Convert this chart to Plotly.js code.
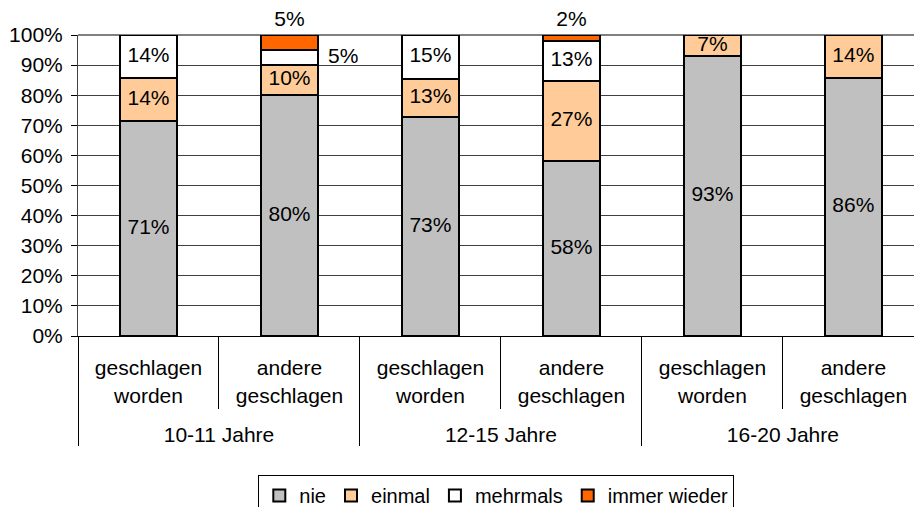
<!DOCTYPE html>
<html>
<head>
<meta charset="utf-8">
<script src="https://cdn.plot.ly/plotly-3.0.1.min.js"></script>
<style>html,body{margin:0;padding:0;background:#fff;}#chart{width:914px;height:507px;}</style>
</head>
<body>
<div id="chart"></div>
<script>
const groups = ['10-11 Jahre','10-11 Jahre','12-15 Jahre','12-15 Jahre','16-20 Jahre','16-20 Jahre'];
const categories = ['geschlagen<br>worden','andere<br>geschlagen','geschlagen<br>worden','andere<br>geschlagen','geschlagen<br>worden','andere<br>geschlagen'];
const seriesNames = ['nie','einmal','mehrmals','immer wieder'];
const nie = [71.4, 80.0, 72.7, 58.1, 92.9, 85.7];
const einmal = [14.3, 10.0, 12.7, 26.6, 7.1, 14.3];
const mehrmals = [14.3, 5.0, 14.6, 13.3, 0, 0];
const immerWieder = [0, 5.0, 0, 2.0, 0, 0];
const colors = ['#C0C0C0','#FFCC99','#FFFFFF','#FF6600'];
const yTickVals = [0,10,20,30,40,50,60,70,80,90,100];

const seriesValues = [nie, einmal, mehrmals, immerWieder];
const FONT = 'Liberation Sans, Arial, sans-serif';
const FS = 21;
// group labels sit one (empty) line lower, below the category labels
const groupLabels = groups.map(g => '<br>' + g);
const xcat = [groupLabels, categories];

const traces = seriesValues.map((vals, i) => ({
  type: 'bar', name: seriesNames[i], x: xcat, y: vals,
  marker: {color: colors[i], line: {color: '#000', width: 2}},
  textposition: 'none', hoverinfo: 'y+name'
}));

// label positions computed from the data
const lblInside = {gx: [], cx: [], y: [], t: []};
const lblRight = {gx: [], cx: [], y: [], t: []};
const lblTop = {gx: [], cx: [], y: [], t: []};
for (let j = 0; j < groups.length; j++) {
  let base = 0;
  const total = seriesValues.reduce((s, v) => s + v[j], 0);
  for (let i = 0; i < seriesValues.length; i++) {
    const v = seriesValues[i][j];
    if (v > 0) {
      const txt = Math.round(v) + '%';
      const isTop = Math.abs(base + v - total) < 1e-6;
      let tgt;
      if (v >= 6) { tgt = lblInside; tgt.y.push(base + v / 2); }
      else if (isTop) { tgt = lblTop; tgt.y.push(base + v); }
      else { tgt = lblRight; tgt.y.push(base + v / 2); }
      tgt.gx.push(groupLabels[j]); tgt.cx.push(categories[j]); tgt.t.push(txt);
    }
    base += v;
  }
}
const tf = {family: FONT, size: FS, color: '#000'};
traces.push({type: 'scatter', mode: 'text', x: [lblInside.gx, lblInside.cx], y: lblInside.y, text: lblInside.t,
  textposition: 'middle center', textfont: tf, showlegend: false, hoverinfo: 'skip', cliponaxis: false});
traces.push({type: 'scatter', mode: 'markers+text', x: [lblTop.gx, lblTop.cx], y: lblTop.y, text: lblTop.t,
  marker: {size: 4, opacity: 0}, textposition: 'top center', textfont: tf, showlegend: false,
  hoverinfo: 'skip', cliponaxis: false});
traces.push({type: 'scatter', mode: 'markers+text', x: [lblRight.gx, lblRight.cx], y: lblRight.y, text: lblRight.t,
  marker: {size: 60, opacity: 0}, textposition: 'middle right', textfont: tf, showlegend: false,
  hoverinfo: 'skip', cliponaxis: false});

const layout = {
  width: 914, height: 507,
  margin: {l: 78, r: 0, t: 35, b: 171},
  paper_bgcolor: '#fff', plot_bgcolor: '#fff',
  barmode: 'stack', bargap: 0.6,
  font: {family: FONT, size: FS, color: '#000'},
  showlegend: true,
  legend: {orientation: 'h', xref: 'container', yref: 'container', x: 0.543, xanchor: 'center',
    y: 0.063, yanchor: 'top', bordercolor: '#000', borderwidth: 1, bgcolor: '#fff',
    font: {family: FONT, size: 20, color: '#000'}, traceorder: 'normal', itemwidth: 30},
  xaxis: {type: 'multicategory', range: [-0.5, 5.43], tickson: 'boundaries', ticks: 'outside',
    ticklen: 72, tickcolor: '#000', tickwidth: 1, ticklabelstandoff: 13,
    showdividers: true, dividercolor: '#000', dividerwidth: 1,
    showline: true, linecolor: '#000', linewidth: 1, showgrid: false, zeroline: false,
    tickfont: {family: FONT, size: FS, color: '#000'}},
  yaxis: {range: [0, 100], tickvals: yTickVals, ticktext: yTickVals.map(v => v + '%'),
    ticks: 'outside', ticklen: 6, tickcolor: '#000', ticklabelstandoff: 4,
    showline: true, linecolor: '#404040', linewidth: 1,
    showgrid: true, gridcolor: '#404040', gridwidth: 1, zeroline: false, fixedrange: true,
    tickfont: {family: FONT, size: FS, color: '#000'}},
  shapes: [{type: 'line', xref: 'paper', yref: 'paper', x0: 0, x1: 1, y0: 1, y1: 1,
    line: {color: '#808080', width: 2}, layer: 'below'}]
};
Plotly.newPlot('chart', traces, layout, {displayModeBar: false, staticPlot: true});
</script>
</body>
</html>
